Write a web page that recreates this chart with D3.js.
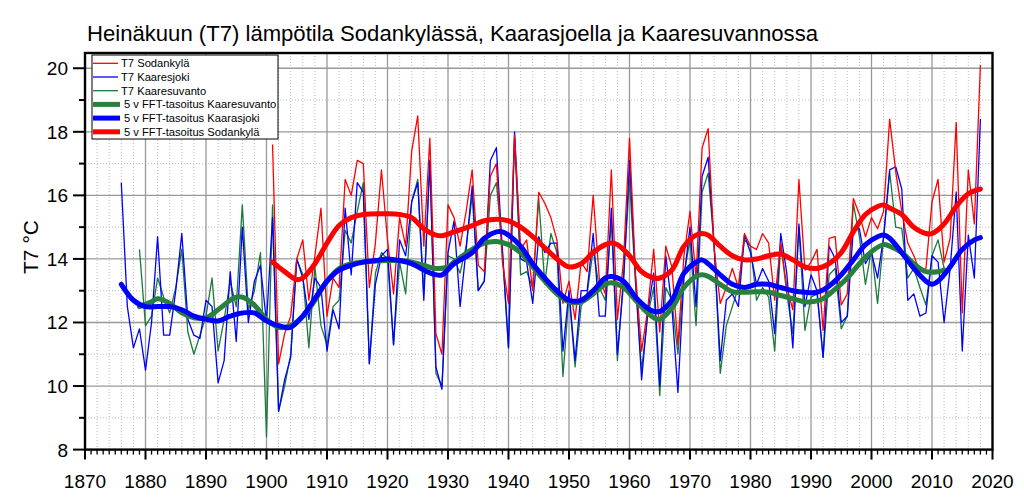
<!DOCTYPE html>
<html><head><meta charset="utf-8">
<script src="https://cdn.jsdelivr.net/npm/d3@7/dist/d3.min.js"></script>
<style>body{margin:0;background:#fff}svg{display:block}</style>
</head><body>
<svg id="c" width="1024" height="499"></svg>
<script>
// ---- data ----
const title = "Heinäkuun (T7) lämpötila Sodankylässä, Kaarasjoella ja Kaaresuvannossa";
const xTicks = d3.range(1870, 2021, 10);
const yTicks = [8, 10, 12, 14, 16, 18, 20];

const sodStart = 1901;
const sodankyla = [17.6,10.7,11.65,12.2,14.0,14.6,12.7,14.1,15.6,12.2,
 13.4,13.1,16.5,16.0,17.1,17.0,13.1,14.5,16.8,14.6,
 12.9,15.3,14.4,17.4,18.5,14.4,17.8,11.65,11.0,15.7,
 15.3,14.4,15.5,16.8,13.8,13.6,16.6,17.0,13.9,12.6,
 17.9,14.3,14.6,13.0,16.1,15.75,15.3,14.6,12.6,13.3,
 12.1,13.9,13.6,16.0,13.4,12.9,16.8,12.1,13.9,17.8,
 13.5,11.1,12.4,14.3,11.7,14.4,13.75,11.3,14.1,15.5,
 13.4,17.5,18.1,14.3,12.6,13.1,13.7,13.1,14.8,14.4,
 14.3,14.8,14.5,12.7,14.5,13.1,12.4,16.5,13.65,13.9,
 14.3,11.75,14.65,14.7,12.55,12.9,15.9,15.4,14.7,15.3,
 14.95,15.5,18.4,16.75,15.5,14.5,14.1,13.6,13.7,15.8,
 16.5,13.9,14.65,18.3,12.3,16.8,15.1,20.1];

const kaaStart = 1876;
const kaarasjoki = [16.4,12.5,11.2,11.8,10.5,12.0,14.7,11.6,11.6,13.0,
 14.8,12.1,11.6,11.5,12.7,12.5,10.1,10.8,13.6,11.4,
 15.0,12.0,13.3,13.8,12.0,15.3,9.2,10.2,10.9,14.0,
 13.4,12.1,13.4,13.1,11.1,12.4,11.8,15.6,13.5,16.4,
 16.1,10.7,13.2,14.1,14.3,11.3,14.6,14.1,15.8,16.4,
 12.7,17.1,10.6,9.9,14.2,15.2,12.5,14.3,16.3,13.0,
 13.3,17.1,17.5,14.2,11.2,18.0,14.0,13.9,12.6,14.7,
 14.2,14.5,14.5,11.1,13.0,10.8,13.0,13.0,14.8,12.2,
 12.2,15.6,11.0,13.2,17.1,13.4,10.2,12.3,13.55,10.0,
 14.1,12.5,9.8,13.4,15.0,12.5,16.6,17.2,14.4,10.8,
 12.7,12.9,12.5,14.75,14.2,13.2,13.7,13.3,11.65,14.8,
 13.55,11.2,15.1,12.5,13.5,13.0,10.9,14.4,14.0,12.0,
 12.2,14.95,14.95,13.85,14.2,13.4,14.7,16.8,16.9,16.2,
 12.7,12.9,12.2,12.3,14.1,13.9,12.0,13.7,16.1,11.1,
 14.75,13.4,18.4];

const ksuStart = 1879;
const kaaresuvanto = [14.3,11.9,12.2,13.4,12.8,12.3,13.1,14.3,11.7,11.0,
 11.6,12.2,13.4,11.1,12.1,13.3,12.5,15.7,12.4,13.0,
 14.2,8.4,15.7,9.2,10.0,11.0,14.0,13.5,11.2,13.75,
 11.9,11.3,12.5,12.7,14.9,14.5,15.5,16.4,10.7,13.55,
 14.2,14.0,11.3,13.9,12.9,15.8,16.5,12.9,17.1,10.4,
 10.0,14.1,14.0,13.55,14.4,16.0,13.0,13.3,16.0,16.4,
 14.3,11.2,17.8,13.5,13.6,13.1,15.9,13.2,14.8,14.2,
 10.3,12.9,10.6,12.5,12.9,14.3,13.1,12.7,15.2,10.8,
 13.45,16.5,13.2,10.5,12.2,13.1,9.7,13.1,12.7,11.0,
 13.5,14.6,11.9,16.1,16.7,14.4,10.4,11.9,12.5,13.1,
 14.6,14.4,12.7,13.1,12.8,11.1,14.5,12.9,11.65,15.0,
 11.75,12.8,12.9,10.9,13.5,13.7,11.8,12.2,15.75,14.7,
 13.2,14.3,12.6,14.65,16.75,15.0,14.96,13.4,13.7,13.1,
 12.55,14.1,14.6,13.7];

// 5-year FFT smoothed curves: [year, value]
const sodSmooth = [[1901,13.9],[1903,13.6],[1905,13.35],[1906,13.4],[1908,13.85],[1910,14.5],[1912,15.05],
 [1914,15.3],[1916,15.4],[1920,15.42],[1922,15.4],[1924,15.3],[1926,14.95],[1928,14.75],[1929,14.73],
 [1931,14.85],[1934,15.05],[1936,15.2],[1938,15.25],[1940,15.2],[1942,15.0],[1944,14.7],[1946,14.35],
 [1948,14.0],[1950,13.75],[1952,13.85],[1954,14.2],[1956,14.45],[1957,14.5],[1958,14.45],[1960,14.1],
 [1962,13.6],[1964,13.4],[1965,13.4],[1967,13.65],[1969,14.4],[1971,14.75],[1972,14.8],[1973,14.75],
 [1975,14.4],[1977,14.1],[1979,13.97],[1981,14.0],[1983,14.1],[1985,14.15],[1987,13.97],[1989,13.75],
 [1991,13.7],[1993,13.85],[1995,14.2],[1997,14.85],[1999,15.4],[2001,15.65],[2002,15.7],[2003,15.6],
 [2005,15.4],[2007,15.0],[2009,14.8],[2010,14.8],[2012,15.1],[2014,15.65],[2016,16.05],[2018,16.2]];

const kaaSmooth = [[1876,13.2],[1878,12.7],[1880,12.5],[1882,12.5],[1884,12.5],[1886,12.4],[1888,12.2],
 [1890,12.1],[1892,12.05],[1894,12.2],[1896,12.3],[1898,12.3],[1900,12.05],[1902,11.9],[1903,11.85],
 [1904,11.85],[1906,12.2],[1908,12.75],[1910,13.3],[1912,13.65],[1914,13.8],[1916,13.9],[1918,13.95],
 [1920,14.0],[1922,13.95],[1924,13.85],[1926,13.65],[1928,13.5],[1929,13.5],[1931,13.85],[1934,14.2],
 [1936,14.65],[1938,14.85],[1939,14.85],[1940,14.75],[1942,14.4],[1944,13.85],[1946,13.4],[1948,13.0],
 [1950,12.7],[1952,12.7],[1954,13.0],[1956,13.4],[1957,13.45],[1959,13.3],[1961,12.8],[1963,12.45],
 [1964,12.35],[1965,12.35],[1967,12.7],[1969,13.55],[1971,13.9],[1972,13.97],[1973,13.85],[1975,13.5],
 [1977,13.2],[1979,13.1],[1981,13.2],[1983,13.2],[1985,13.1],[1987,13.0],[1989,12.95],[1991,12.95],
 [1993,13.15],[1995,13.5],[1997,13.97],[1999,14.45],[2001,14.7],[2002,14.75],[2003,14.65],[2005,14.2],
 [2007,13.7],[2009,13.3],[2010,13.2],[2011,13.3],[2013,13.75],[2015,14.3],[2017,14.6],[2018,14.67]];

const ksuSmooth = [[1879,12.5],[1881,12.65],[1882,12.75],[1884,12.6],[1886,12.3],[1888,12.15],[1890,12.15],
 [1892,12.4],[1894,12.7],[1895,12.8],[1896,12.8],[1898,12.55],[1900,12.1],[1902,11.85],[1904,11.9],
 [1906,12.2],[1908,12.7],[1910,13.3],[1912,13.7],[1914,13.85],[1916,13.9],[1920,13.95],[1922,13.95],
 [1924,13.9],[1926,13.8],[1928,13.7],[1930,13.75],[1931,13.9],[1934,14.3],[1936,14.5],[1938,14.55],
 [1940,14.45],[1942,14.2],[1944,13.75],[1946,13.3],[1948,12.9],[1950,12.65],[1952,12.65],[1954,12.9],
 [1956,13.2],[1957,13.25],[1959,13.1],[1961,12.7],[1963,12.3],[1964,12.15],[1965,12.1],[1967,12.45],
 [1969,13.1],[1971,13.45],[1972,13.5],[1973,13.45],[1975,13.2],[1977,12.97],[1979,12.95],[1981,12.97],
 [1983,12.95],[1985,12.85],[1987,12.75],[1989,12.65],[1990,12.65],[1992,12.75],[1994,13.05],[1996,13.4],
 [1998,13.85],[2000,14.23],[2002,14.45],[2003,14.4],[2005,14.2],[2007,13.85],[2009,13.6],[2011,13.6],[2012,13.65]];

const legendItems = [
 {label:"T7 Sodankylä", color:"#ff0000", w:1.3},
 {label:"T7 Kaaresjoki", color:"#0000ff", w:1.3},
 {label:"T7 Kaaresuvanto", color:"#1a7a3a", w:1.3},
 {label:"5 v FFT-tasoitus Kaaresuvanto", color:"#27803b", w:5},
 {label:"5 v FFT-tasoitus Kaarasjoki", color:"#0000ff", w:5},
 {label:"5 v FFT-tasoitus Sodankylä", color:"#ff0000", w:5}
];

// ---- drawing ----
const svg = d3.select("#c");
const L = 85, R = 992.5, T = 53, B = 449.6;
const x = d3.scaleLinear().domain([1870, 2020]).range([L, R]);
const y = d3.scaleLinear().domain([8, 20.48]).range([B, T]);
const font = "Liberation Sans, Arial, sans-serif";

const g = svg.append("g");
// minor dotted grid
g.selectAll(".mgx").data(d3.range(1872, 2020, 2).filter(v => v % 10 !== 0)).join("line")
  .attr("x1", d => x(d)).attr("x2", d => x(d)).attr("y1", T).attr("y2", B)
  .attr("stroke", "#bdbdbd").attr("stroke-width", 1).attr("stroke-dasharray", "1,2");
g.selectAll(".mgy").data(d3.range(9, 21, 2)).join("line")
  .attr("x1", L).attr("x2", R).attr("y1", d => y(d)).attr("y2", d => y(d))
  .attr("stroke", "#bdbdbd").attr("stroke-width", 1).attr("stroke-dasharray", "1,2");
// major grid
g.selectAll(".gx").data(xTicks.slice(1, -1)).join("line")
  .attr("x1", d => x(d)).attr("x2", d => x(d)).attr("y1", T).attr("y2", B)
  .attr("stroke", "#999").attr("stroke-width", 1.3);
g.selectAll(".gy").data(yTicks.slice(1)).join("line")
  .attr("x1", L).attr("x2", R).attr("y1", d => y(d)).attr("y2", d => y(d))
  .attr("stroke", "#999").attr("stroke-width", 1.3);

// series
const toPts = (arr, start) => arr.map((v, i) => [start + i, v]);
const line = d3.line().x(d => x(d[0])).y(d => y(d[1]));
const sline = d3.line().x(d => x(d[0])).y(d => y(d[1])).curve(d3.curveCatmullRom.alpha(0.5));
const thin = [[kaaresuvanto, ksuStart, "#1a7a3a"], [kaarasjoki, kaaStart, "#0000ff"], [sodankyla, sodStart, "#ff0000"]];
thin.forEach(([arr, st, col]) => {
  g.append("path").attr("d", line(toPts(arr, st))).attr("fill", "none")
   .attr("stroke", col).attr("stroke-width", 1.3).attr("stroke-linejoin", "round");
});
[[ksuSmooth, "#27803b"], [kaaSmooth, "#0000ff"], [sodSmooth, "#ff0000"]].forEach(([arr, col]) => {
  g.append("path").attr("d", sline(arr)).attr("fill", "none")
   .attr("stroke", col).attr("stroke-width", 5).attr("stroke-linecap", "round");
});

// axes ticks
const ax = svg.append("g");
ax.selectAll(".xt").data(d3.range(1870, 2021, 1)).join("line")
  .attr("x1", d => x(d)).attr("x2", d => x(d)).attr("y1", B)
  .attr("y2", d => B + (d % 10 === 0 ? 10 : 5)).attr("stroke", "#000").attr("stroke-width", d => d % 10 === 0 ? 2 : 1.3);
ax.selectAll(".xl").data(xTicks).join("text")
  .attr("x", d => x(d)).attr("y", 488).attr("text-anchor", "middle")
  .attr("font-family", font).attr("font-size", 19).text(d => d);
ax.selectAll(".yt").data(d3.range(8, 21, 1)).join("line")
  .attr("x1", L).attr("x2", d => L - (d % 2 === 0 ? 12 : 6)).attr("y1", d => y(d)).attr("y2", d => y(d))
  .attr("stroke", "#000").attr("stroke-width", 2);
ax.selectAll(".yl").data(yTicks).join("text")
  .attr("x", 68).attr("y", d => y(d) + 7).attr("text-anchor", "end")
  .attr("font-family", font).attr("font-size", 19).text(d => d);

// frame
svg.append("rect").attr("x", L).attr("y", T).attr("width", R - L).attr("height", B - T)
  .attr("fill", "none").attr("stroke", "#000").attr("stroke-width", 2.4);

// title & axis label
svg.append("text").attr("x", 87).attr("y", 41).attr("font-family", font).attr("font-size", 22)
  .attr("textLength", 731).attr("lengthAdjust", "spacingAndGlyphs").text(title);
svg.append("text").attr("transform", "translate(38,247) rotate(-90)").attr("text-anchor", "middle")
  .attr("font-family", font).attr("font-size", 21).text("T7 °C");

// legend
const lg = svg.append("g");
lg.append("rect").attr("x", 92).attr("y", 55).attr("width", 186).attr("height", 84)
  .attr("fill", "#fff").attr("stroke", "#000").attr("stroke-width", 1);
legendItems.forEach((it, i) => {
  const yy = 63.3 + i * 13.7;
  const thick = it.w > 2;
  lg.append("line").attr("x1", 93).attr("x2", thick ? 120 : 118).attr("y1", yy).attr("y2", yy)
    .attr("stroke", it.color).attr("stroke-width", it.w);
  lg.append("text").attr("x", thick ? 124 : 121).attr("y", yy + 4).attr("font-family", font)
    .attr("font-size", 11.2).text(it.label);
});
</script>
</body></html>
